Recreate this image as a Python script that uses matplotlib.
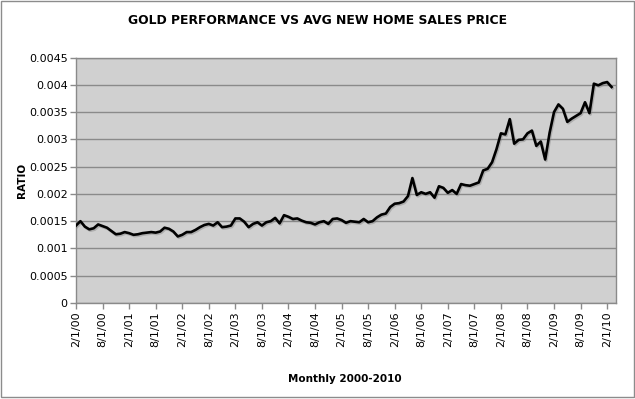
import matplotlib
matplotlib.use("Agg")
import matplotlib.pyplot as plt
import matplotlib.patheffects as pe
from matplotlib.patches import Rectangle
from matplotlib.ticker import FixedLocator

# Monthly ratio values, Feb 2000 .. Mar 2010
ratio = [
    0.00142, 0.00150, 0.00140, 0.00135, 0.00137, 0.00144, 0.00141, 0.00138, 0.00132, 0.00126,
    0.00127, 0.00130, 0.00128, 0.00125, 0.00126, 0.00128, 0.00129, 0.00130, 0.00129, 0.00131,
    0.00138, 0.00136, 0.00131, 0.00122, 0.00125, 0.00130, 0.00130, 0.00134, 0.00139, 0.00143,
    0.00145, 0.00142, 0.00148, 0.00139, 0.00140, 0.00142, 0.00155, 0.00155, 0.00149, 0.00139,
    0.00145, 0.00148, 0.00142, 0.00148, 0.00150, 0.00156, 0.00146, 0.00161, 0.00158, 0.00154,
    0.00155, 0.00151, 0.00148, 0.00147, 0.00144, 0.00148, 0.00150, 0.00145, 0.00154, 0.00155,
    0.00152, 0.00147, 0.00150, 0.00149, 0.00148, 0.00154, 0.00148, 0.00150, 0.00157, 0.00162,
    0.00164, 0.00176, 0.00182, 0.00183, 0.00186, 0.00196, 0.00229, 0.00198, 0.00203, 0.00200,
    0.00203, 0.00193, 0.00214, 0.00211, 0.00202, 0.00207, 0.00200, 0.00218, 0.00216, 0.00215,
    0.00218, 0.00221, 0.00243, 0.00246, 0.00258, 0.00282, 0.00311, 0.00309, 0.00337, 0.00292,
    0.00299, 0.00300, 0.00311, 0.00316, 0.00288, 0.00296, 0.00263, 0.00312, 0.00350, 0.00364,
    0.00356, 0.00332, 0.00338, 0.00343, 0.00348, 0.00368, 0.00348, 0.00402, 0.00399, 0.00403,
    0.00405, 0.00396,
]

tick_labels = ["2/1/00", "8/1/00", "2/1/01", "8/1/01", "2/1/02", "8/1/02", "2/1/03", "8/1/03",
               "2/1/04", "8/1/04", "2/1/05", "8/1/05", "2/1/06", "8/1/06", "2/1/07", "8/1/07",
               "2/1/08", "8/1/08", "2/1/09", "8/1/09", "2/1/10"]
y_ticks = [0, 0.0005, 0.001, 0.0015, 0.002, 0.0025, 0.003, 0.0035, 0.004, 0.0045]
y_labels = ["0", "0.0005", "0.001", "0.0015", "0.002", "0.0025", "0.003", "0.0035", "0.004", "0.0045"]

title = "GOLD PERFORMANCE VS AVG NEW HOME SALES PRICE"
xlabel = "Monthly 2000-2010"
ylabel = "RATIO"

plt.rcParams['font.family'] = ['DejaVu Sans']

fig = plt.figure(figsize=(6.35, 3.99), dpi=100)
fig.patch.set_facecolor("white")
fig.patches.append(Rectangle((0.001, 0.004), 0.997, 0.994, transform=fig.transFigure,
                             fill=False, edgecolor="#8c8c8c", linewidth=1.0))

ax = fig.add_axes([76/635, 1-303/399, (616-76)/635, (303-57.5)/399])
ax.set_facecolor("#d0d0d0")

x = list(range(len(ratio)))
ax.plot(x, ratio, color="black", linewidth=1.9, solid_joinstyle="round",
        path_effects=[pe.SimpleLineShadow(offset=(0.8, -1.0), shadow_color="#7a7a7a", alpha=0.4),
                      pe.Normal()], zorder=3)

ax.set_xlim(0, 122)
ax.set_ylim(0, 0.0045)
ax.yaxis.set_major_locator(FixedLocator(y_ticks))
ax.set_yticklabels(y_labels, fontsize=8)
ax.xaxis.set_major_locator(FixedLocator([6*i for i in range(len(tick_labels))]))
ax.set_xticklabels(tick_labels, rotation=90, fontsize=8)
ax.grid(axis="y", color="#8a8a8a", linewidth=1.0)
ax.set_axisbelow(True)
for s in ax.spines.values():
    s.set_color("#8a8a8a")
    s.set_linewidth(1.0)
ax.tick_params(axis="both", color="#8a8a8a", length=4, width=1, pad=2)

fig.text(0.5, 1-20/399, title, ha="center", va="center", fontsize=8.9, fontweight="bold")
fig.text(345/635, 1-379/399, xlabel, ha="center", va="center", fontsize=7.5, fontweight="bold")
fig.text(22/635, 1-180/399, ylabel, ha="center", va="center", fontsize=7.5, fontweight="bold",
         rotation=90)

fig.savefig("out.png", dpi=100)
